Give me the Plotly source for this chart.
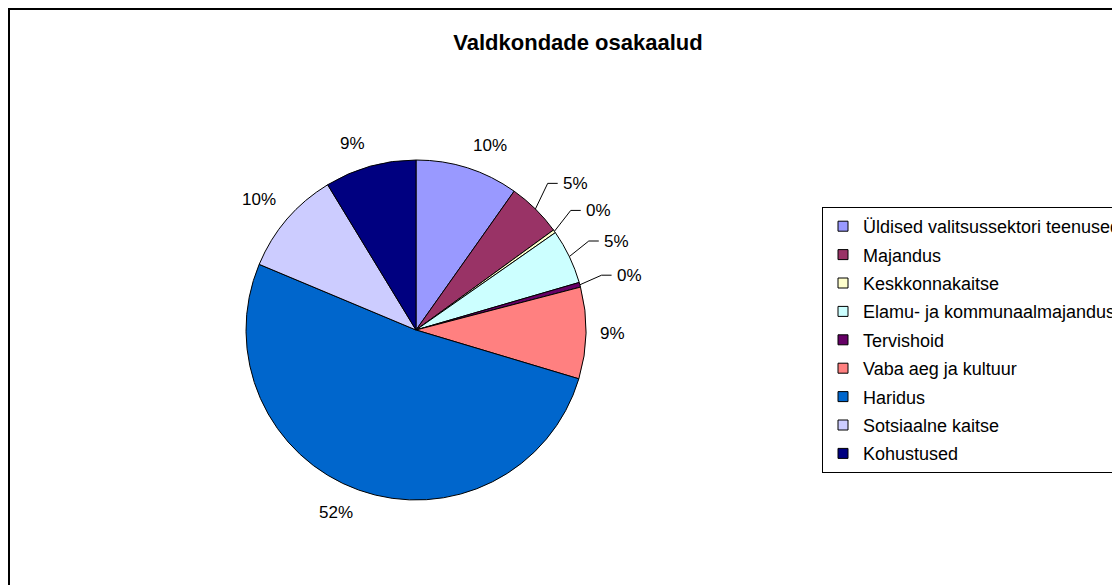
import math
import plotly.graph_objects as go

# andmed
labels = [
    "Üldised valitsussektori teenused",
    "Majandus",
    "Keskkonnakaitse",
    "Elamu- ja kommunaalmajandus",
    "Tervishoid",
    "Vaba aeg ja kultuur",
    "Haridus",
    "Sotsiaalne kaitse",
    "Kohustused",
]
values = [9.8, 5.2, 0.3, 5.2, 0.45, 8.7, 51.7, 10.0, 8.7]
colors = ["#9999FF", "#993366", "#FFFFCC", "#CCFFFF", "#660066",
          "#FF8080", "#0066CC", "#CCCCFF", "#000080"]

FONT = "Liberation Sans, Arial, sans-serif"
W, H = 1120, 585

# pirukas pikslites (joonise koordinaadid)
CX, CY, R = 408, 322, 170


def px(x, y):
    return x / W, 1 - y / H


fig = go.Figure()

fig.add_trace(go.Pie(
    labels=labels,
    values=values,
    sort=False,
    direction="clockwise",
    rotation=0,
    marker=dict(colors=colors, line=dict(color="black", width=1)),
    textinfo="none",
    showlegend=False,
    hoverinfo="label+percent",
    domain=dict(x=[(CX - R) / W, (CX + R) / W],
                y=[1 - (CY + R) / H, 1 - (CY - R) / H]),
))

# protsendisildid + juhtjooned väikestele sektoritele
total = sum(values)
annotations = []
shapes = []
cum = 0
for v in values:
    share = v / total
    theta = 2 * math.pi * (cum + share / 2)
    cum += share
    s, c = math.sin(theta), -math.cos(theta)
    txt = f"{int(share * 100 + 0.5)}%"
    if v < 6:
        ax, ay = CX + (R + 36) * s, CY + (R + 36) * c
        ex, ey = CX + R * s, CY + R * c
        x1, y1 = px(ex, ey)
        x2, y2 = px(ax - 13, ay)
        x3, y3 = px(ax - 3, ay)
        shapes.append(dict(type="path", xref="paper", yref="paper",
                           path=f"M {x1},{y1} L {x2},{y2} L {x3},{y3}",
                           line=dict(color="black", width=1)))
        xa, ya = "left", "middle"
    else:
        ax, ay = CX + (R + 12) * s, CY + (R + 12) * c
        xa = "left" if s > 0.1 else ("right" if s < -0.1 else "center")
        ya = "bottom" if c < -0.1 else ("top" if c > 0.1 else "middle")
    x, y = px(ax, ay)
    annotations.append(dict(x=x, y=y, xref="paper", yref="paper", text=txt,
                            showarrow=False, xanchor=xa, yanchor=ya,
                            font=dict(family=FONT, size=17, color="black")))

# legendi jaoks eraldi kirjed (et vahed oleks suuremad)
for lab, col in zip(labels, colors):
    fig.add_trace(go.Scatter(
        x=[None], y=[None], mode="markers", name=lab, legendgroup=lab,
        marker=dict(symbol="square", size=10, color=col,
                    line=dict(color="black", width=1)),
    ))

# raam
shapes.append(dict(type="rect", xref="paper", yref="paper",
                   x0=1 / W, x1=1.02, y0=-0.02, y1=1 - 1 / H,
                   line=dict(color="black", width=2)))

fig.update_layout(
    width=W, height=H,
    margin=dict(l=0, r=0, t=0, b=0),
    paper_bgcolor="white",
    plot_bgcolor="white",
    xaxis=dict(visible=False),
    yaxis=dict(visible=False),
    title=dict(text="<b>Valdkondade osakaalud</b>", x=570 / W, xanchor="center",
               y=1 - 34 / H, yanchor="middle", yref="container",
               font=dict(family=FONT, size=22, color="black")),
    legend=dict(
        x=814 / W, xanchor="left", y=1 - 199 / H, yanchor="top",
        bgcolor="white", bordercolor="black", borderwidth=1,
        font=dict(family=FONT, size=18, color="black"),
        tracegroupgap=2,
    ),
    annotations=annotations,
    shapes=shapes,
)

fig.write_html("out.html")
